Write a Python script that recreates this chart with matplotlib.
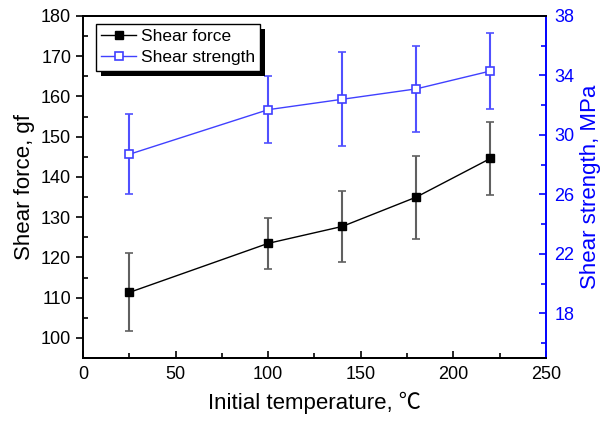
import numpy as np
import matplotlib.pyplot as plt
from matplotlib.ticker import MultipleLocator
from matplotlib.patches import Rectangle

plt.rcParams['font.family'] = ['Liberation Sans', 'Noto Sans CJK SC', 'DejaVu Sans']

temp = [25, 100, 140, 180, 220]
force = [111.3, 123.5, 127.7, 135.0, 144.6]
force_err = [9.7, 6.4, 8.9, 10.3, 9.1]
strength = [28.7, 31.7, 32.4, 33.1, 34.3]
strength_err = [2.68, 2.24, 3.15, 2.88, 2.58]

blue = '#0000ff'
lblue = '#4040ff'

fig = plt.figure(figsize=(6.08, 4.21), dpi=100)
ax = fig.add_axes([0.1365, 0.1496, 0.7615, 0.8124])
ax2 = ax.twinx()

c1 = ax.errorbar(temp, force, yerr=force_err, color='black', ecolor='#606060',
                 elinewidth=1.5, capsize=2.6, capthick=1.2, lw=1, marker='s',
                 ms=5.8, mfc='black', mec='black', label='Shear force')
c2 = ax2.errorbar(temp, strength, yerr=strength_err, color=lblue, ecolor='#5050ff',
                  elinewidth=1.5, capsize=2.6, capthick=1.2, lw=1, marker='s',
                  ms=5.8, mfc='white', mec=lblue, mew=1.2, label='Shear strength')

ax.set_xlim(0, 250)
ax.set_ylim(95, 180)
ax2.set_ylim(15, 38)
ax.xaxis.set_major_locator(MultipleLocator(50))
ax.xaxis.set_minor_locator(MultipleLocator(25))
ax.set_yticks(np.arange(100, 181, 10))
ax.yaxis.set_minor_locator(MultipleLocator(5))
ax2.set_yticks(np.arange(18, 39, 4))
ax2.yaxis.set_minor_locator(MultipleLocator(2))

for a in (ax, ax2):
    for s in a.spines.values():
        s.set_linewidth(1.4)
ax.spines['right'].set_visible(False)
ax2.spines['right'].set_color(blue)
ax2.spines['left'].set_visible(False)

ax.tick_params(axis='x', which='both', direction='in', width=1.2, labelsize=13, pad=6)
ax.tick_params(axis='y', which='major', direction='out', width=1.2, labelsize=13)
ax.tick_params(axis='y', which='minor', direction='in', width=1.2)
ax.tick_params(which='major', length=5)
ax.tick_params(which='minor', length=3.5)
ax2.tick_params(which='both', direction='in', width=1.2, colors=blue,
                labelsize=13, pad=6)
ax2.tick_params(which='major', length=5)
ax2.tick_params(which='minor', length=3.5)

ax.set_xlabel('Initial temperature, \u2103', fontsize=16, labelpad=6)
ax.set_ylabel('Shear force, gf', fontsize=16, labelpad=4)
ax2.set_ylabel('Shear strength, MPa', fontsize=16, color=blue, labelpad=4)

leg = ax2.legend([c1[0], c2[0]], ['Shear force', 'Shear strength'],
                 loc='upper left', bbox_to_anchor=(0.028, 0.977), fontsize=12.5,
                 fancybox=False, edgecolor='black', framealpha=1,
                 handlelength=2.0, handletextpad=0.3, borderpad=0.3,
                 labelspacing=0.35, borderaxespad=0)
leg.get_frame().set_linewidth(1.0)
leg.set_zorder(6)

# offset black shadow behind the legend box
fig.canvas.draw()
bb = leg.get_frame().get_window_extent()
shadow = Rectangle((bb.x0 + 5, bb.y0 - 5), bb.width, bb.height, transform=None,
                   facecolor='black', edgecolor='none', zorder=5.5)
shadow.set_clip_on(False)
ax2.add_artist(shadow)

fig.savefig('out.png', dpi=100)
